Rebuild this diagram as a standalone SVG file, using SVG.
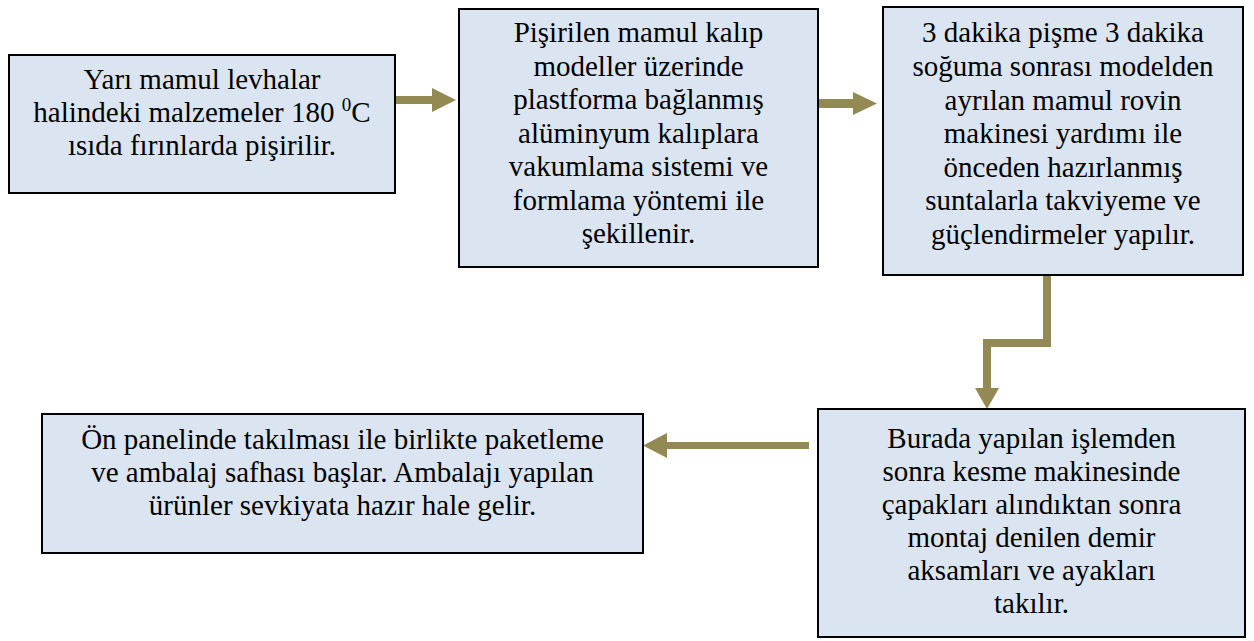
<svg xmlns="http://www.w3.org/2000/svg" width="1254" height="641" viewBox="0 0 1254 641">
<style>
.box{fill:#dbe5f1;stroke:#000;stroke-width:2}
.t{font-family:"Liberation Serif","Times New Roman",serif;font-size:29px;fill:#000;text-anchor:middle}
.arr{fill:#938953;stroke:none}
</style>
<rect width="1254" height="641" fill="#fff"/>
<g id="connectors">
<path class="arr" d="M394,96 L432,96 L432,88 L456,100 L432,112 L432,104 L394,104 Z"/>
<path class="arr" d="M819,99 L853,99 L853,92 L877,103.5 L853,115 L853,108 L819,108 Z"/>
<path class="arr" d="M1043,275 L1051,275 L1051,347 L991,347 L991,388 L999,388 L987,409 L975,388 L983,388 L983,339 L1043,339 Z"/>
<path class="arr" d="M809,442 L667,442 L667,433 L643,445.5 L667,458 L667,449 L809,449 Z"/>
</g>
<g id="node1">
<rect class="box" x="9" y="55" width="386" height="138"/>
<text class="t" x="202" y="89">Yarı mamul levhalar</text>
<text class="t" x="202" y="122">halindeki malzemeler 180 <tspan font-size="19" dy="-11">0</tspan><tspan dy="11">C</tspan></text>
<text class="t" x="202" y="155">ısıda fırınlarda pişirilir.</text>
</g>
<g id="node2">
<rect class="box" x="459" y="9" width="359" height="258"/>
<text class="t" x="638.5" y="42">Pişirilen mamul kalıp</text>
<text class="t" x="638.5" y="75.5">modeller üzerinde</text>
<text class="t" x="638.5" y="109">plastforma bağlanmış</text>
<text class="t" x="638.5" y="142.5">alüminyum kalıplara</text>
<text class="t" x="638.5" y="176">vakumlama sistemi ve</text>
<text class="t" x="638.5" y="209.5">formlama yöntemi ile</text>
<text class="t" x="638.5" y="243">şekillenir.</text>
</g>
<g id="node3">
<rect class="box" x="883" y="7" width="360" height="268"/>
<text class="t" x="1063" y="42">3 dakika pişme 3 dakika</text>
<text class="t" x="1063" y="76">soğuma sonrası modelden</text>
<text class="t" x="1063" y="109.5">ayrılan mamul rovin</text>
<text class="t" x="1063" y="143">makinesi yardımı ile</text>
<text class="t" x="1063" y="176.5">önceden hazırlanmış</text>
<text class="t" x="1063" y="210">suntalarla takviyeme ve</text>
<text class="t" x="1063" y="243.5">güçlendirmeler yapılır.</text>
</g>
<g id="node4">
<rect class="box" x="818" y="409" width="427" height="228"/>
<text class="t" x="1031.5" y="448">Burada yapılan işlemden</text>
<text class="t" x="1031.5" y="481">sonra kesme makinesinde</text>
<text class="t" x="1031.5" y="514">çapakları alındıktan sonra</text>
<text class="t" x="1031.5" y="547">montaj denilen demir</text>
<text class="t" x="1031.5" y="580">aksamları ve ayakları</text>
<text class="t" x="1031.5" y="613">takılır.</text>
</g>
<g id="node5">
<rect class="box" x="42" y="414" width="601" height="139"/>
<text class="t" x="342.5" y="449">Ön panelinde takılması ile birlikte paketleme</text>
<text class="t" x="342.5" y="482">ve ambalaj safhası başlar. Ambalajı yapılan</text>
<text class="t" x="342.5" y="515">ürünler sevkiyata hazır hale gelir.</text>
</g>
</svg>
